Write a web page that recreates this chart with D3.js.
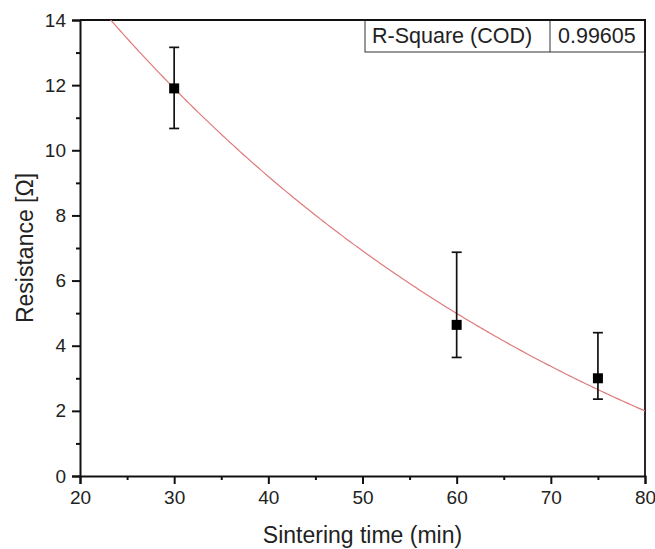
<!DOCTYPE html>
<html>
<head>
<meta charset="utf-8">
<script src="https://cdn.jsdelivr.net/npm/d3@7"></script>
<style>
  html, body { margin: 0; padding: 0; background: #fff; }
  svg { display: block; font-family: "Liberation Sans", Arial, sans-serif; }
</style>
</head>
<body>
<svg id="chart" width="655" height="549"></svg>
<script>
// Measured resistance vs. sintering time
const sinteringTime = [30, 60, 75];          // min
const resistance    = [11.90, 4.64, 3.00];   // Ω
const errLow        = [10.67, 3.64, 2.36];   // lower bound of error bar
const errHigh       = [13.16, 6.87, 4.40];   // upper bound of error bar

// Exponential decay fit: y = y0 + A * exp(-x / t1)
const fitY0 = -5.39;
const fitA  = 28.8;
const fitT1 = 58.8;
const fitRange = [20, 80];
const rSquare = "0.99605";

const xTicks = [20, 30, 40, 50, 60, 70, 80];
const yTicks = [0, 2, 4, 6, 8, 10, 12, 14];

const svg = d3.select("#chart");
const mLeft = 80, mRight = 645, mTop = 20, mBottom = 476;
const FONT = '"Liberation Sans", Arial, sans-serif';

const x = d3.scaleLinear().domain([20, 80]).range([mLeft, mRight]);
const y = d3.scaleLinear().domain([0, 14]).range([mBottom, mTop]);

// plot frame (top and right edges)
svg.append("path")
  .attr("d", `M${mLeft},${mTop}H${mRight}V${mBottom}`)
  .attr("fill", "none").attr("stroke", "#111").attr("stroke-width", 1.8);

// clip for the fit curve
svg.append("clipPath").attr("id", "plotClip")
  .append("rect").attr("x", mLeft).attr("y", mTop)
  .attr("width", mRight - mLeft).attr("height", mBottom - mTop);

// fit curve
const fitXs = d3.range(fitRange[0], fitRange[1] + 0.001, 0.25);
const fitLine = d3.line()
  .x(d => x(d))
  .y(d => y(fitY0 + fitA * Math.exp(-d / fitT1)));
svg.append("path")
  .datum(fitXs)
  .attr("clip-path", "url(#plotClip)")
  .attr("d", fitLine)
  .attr("fill", "none")
  .attr("stroke", "#e07a7a")
  .attr("stroke-width", 1.2);

// X axis
svg.append("g")
  .attr("transform", `translate(0,${mBottom})`)
  .call(d3.axisBottom(x).tickValues(xTicks).tickSize(8).tickPadding(7).tickFormat(d3.format("d")));
svg.append("g")
  .attr("transform", `translate(0,${mBottom})`)
  .call(d3.axisBottom(x).tickValues(d3.range(25, 80, 10)).tickSize(4).tickFormat(""))
  .call(g => g.select(".domain").remove());

// Y axis
svg.append("g")
  .attr("transform", `translate(${mLeft},0)`)
  .call(d3.axisLeft(y).tickValues(yTicks).tickSize(8).tickPadding(6).tickFormat(d3.format("d")));
svg.append("g")
  .attr("transform", `translate(${mLeft},0)`)
  .call(d3.axisLeft(y).tickValues(d3.range(1, 14, 2)).tickSize(4).tickFormat(""))
  .call(g => g.select(".domain").remove());

svg.selectAll("g").filter(function () { return this.hasAttribute("font-family"); })
  .attr("font-family", FONT);
svg.selectAll(".domain").attr("stroke", "#111").attr("stroke-width", 2);
svg.selectAll(".tick line").attr("stroke", "#111").attr("stroke-width", 2);
svg.selectAll(".tick text").attr("fill", "#222").style("font-size", "19px");

// error bars
const cap = 5;
const pts = sinteringTime.map((t, i) => ({ t, r: resistance[i], lo: errLow[i], hi: errHigh[i] }));
const eb = svg.append("g").attr("stroke", "#111").attr("stroke-width", 1.7);
eb.selectAll("line.v").data(pts).join("line").attr("class", "v")
  .attr("x1", d => x(d.t)).attr("x2", d => x(d.t))
  .attr("y1", d => y(d.lo)).attr("y2", d => y(d.hi));
eb.selectAll("line.hi").data(pts).join("line").attr("class", "hi")
  .attr("x1", d => x(d.t) - cap).attr("x2", d => x(d.t) + cap)
  .attr("y1", d => y(d.hi)).attr("y2", d => y(d.hi));
eb.selectAll("line.lo").data(pts).join("line").attr("class", "lo")
  .attr("x1", d => x(d.t) - cap).attr("x2", d => x(d.t) + cap)
  .attr("y1", d => y(d.lo)).attr("y2", d => y(d.lo));

// data markers
const sq = 10;
svg.append("g").selectAll("rect").data(pts).join("rect")
  .attr("x", d => x(d.t) - sq / 2).attr("y", d => y(d.r) - sq / 2)
  .attr("width", sq).attr("height", sq)
  .attr("fill", "#000");

// R-square table
const tbl = svg.append("g");
const tx0 = 365, tx1 = 550, tx2 = mRight, ty0 = mTop, ty1 = 52;
tbl.append("rect").attr("x", tx0).attr("y", ty0).attr("width", tx2 - tx0).attr("height", ty1 - ty0)
  .attr("fill", "#fff").attr("stroke", "#333").attr("stroke-width", 1);
tbl.append("line").attr("x1", tx1).attr("x2", tx1).attr("y1", ty0).attr("y2", ty1)
  .attr("stroke", "#333").attr("stroke-width", 1);
tbl.append("text").attr("x", 372).attr("y", 43).attr("fill", "#222")
  .style("font-size", "21.5px").text("R-Square (COD)");
tbl.append("text").attr("x", 558).attr("y", 43).attr("fill", "#222")
  .style("font-size", "21.5px").text(rSquare);
// keep the plot's top/right edges crisp over the table
svg.append("path")
  .attr("d", `M${tx0},${mTop}H${mRight}V${ty1}`)
  .attr("fill", "none").attr("stroke", "#111").attr("stroke-width", 1.8);

// axis titles
svg.append("text")
  .attr("x", (mLeft + mRight) / 2).attr("y", 543)
  .attr("text-anchor", "middle").attr("fill", "#222")
  .style("font-size", "23px").text("Sintering time (min)");
svg.append("text")
  .attr("transform", `translate(33,${(mTop + mBottom) / 2}) rotate(-90)`)
  .attr("text-anchor", "middle").attr("fill", "#222")
  .style("font-size", "23px").text("Resistance [Ω]");
</script>
</body>
</html>
